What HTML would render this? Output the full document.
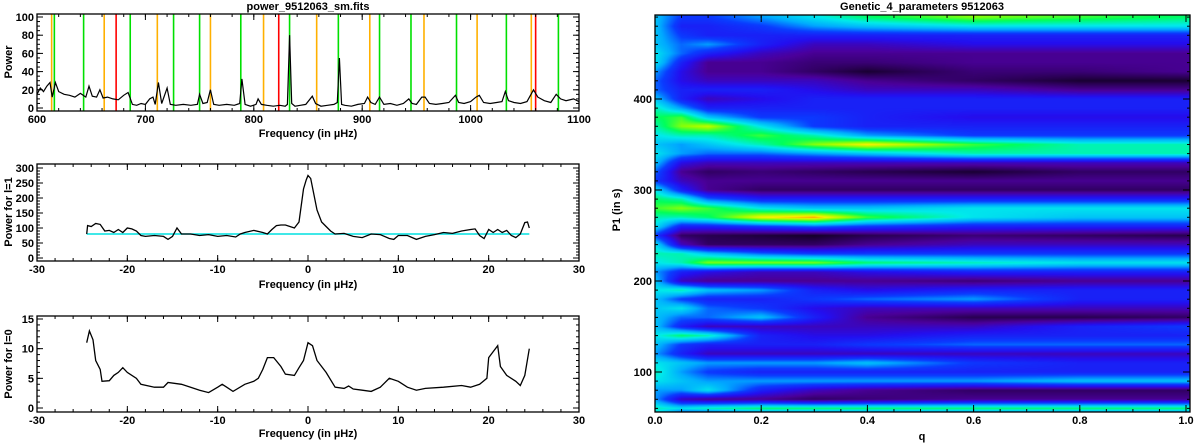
<!DOCTYPE html>
<html><head><meta charset="utf-8">
<style>
html,body{margin:0;padding:0;background:#fff;width:1200px;height:445px;overflow:hidden;}
svg text{font-family:"Liberation Sans",sans-serif;font-weight:bold;font-size:11px;fill:#000;}
#hm{position:absolute;left:655px;top:15px;}
#ov{position:absolute;left:0;top:0;}
</style></head>
<body>
<canvas id="hm" width="535" height="397"></canvas>
<svg id="ov" width="1200" height="445" xmlns="http://www.w3.org/2000/svg"></svg>
<script>
// ---- Panel 1 data ----
const p1Freq = [600,603,606,609,612,614,617,620,625,630,635,640,645,648,651,655,658,661,665,670,675,680,684,688,692,696,700,704,707,709,712,715,720,723,728,735,742,748,750,753,757,760,763,768,775,782,787,789,792,797,802,804,807,812,818,824,829,831,833,835,838,843,848,854,857,862,868,874,877,879,881,884,890,896,902,905,908,912,916,920,926,932,938,943,946,950,955,958,962,968,974,980,986,989,994,1000,1005,1008,1012,1018,1024,1029,1032,1035,1040,1046,1052,1058,1062,1068,1074,1079,1083,1088,1095,1100];
const p1Pow  = [15,22,18,24,28,12,28,18,15,14,12,16,12,24,13,12,20,11,12,10,9,14,17,4,3,5,4,10,12,4,28,5,22,4,3,4,3,4,15,5,6,20,4,3,4,3,5,32,4,2,4,10,4,3,2,3,2,4,80,5,2,3,4,13,5,2,3,4,6,55,4,3,2,4,5,12,6,4,12,4,5,3,5,10,5,4,12,12,5,4,5,6,14,6,5,7,12,14,6,5,6,7,18,8,6,5,7,20,12,8,6,15,10,8,10,7];
const p1Orange = [613.5,662,711,760,809,858,907,957,1006,1056];
const p1Green  = [616,643,686,726,750,788,833,878,916,945,987,1033,1081];
const p1Red    = [673,823,1060];
// ---- Panel 2 data (l=1) ----
const p2Freq = [-24.5,-24.4,-24,-23.5,-23,-22.5,-22,-21.5,-21,-20.5,-20,-19.5,-19,-18.5,-18,-17,-16,-15.5,-15,-14.5,-14,-13,-12,-11,-10,-9,-8,-7.5,-7,-6,-5,-4.5,-4,-3.5,-3,-2.5,-2,-1.5,-1,-0.5,-0.2,0,0.3,0.6,1,1.5,2,2.5,3,4,5,6,7,8,9,9.5,10,11,12,13,14,15,16,17,18,18.5,19,19.5,20,20.5,21,21.5,22,22.5,23,23.5,24,24.3,24.5];
const p2Pow  = [80,108,105,115,112,90,92,85,95,85,100,97,90,75,72,75,72,62,72,100,80,80,75,78,72,75,70,80,85,92,85,80,95,108,110,110,105,100,120,230,260,275,265,220,160,120,105,90,80,82,72,68,80,78,65,62,75,75,62,72,78,85,82,90,95,97,75,65,95,85,95,85,92,75,68,80,118,120,100];
const p2Level = 80;
// ---- Panel 3 data (l=0) ----
const p3Freq = [-24.5,-24.2,-23.8,-23.5,-23,-22.8,-22,-21.5,-21,-20.5,-20,-19,-18.5,-17,-16,-15.5,-14,-13,-12,-11,-10,-9.5,-9,-8.3,-7,-6,-5.5,-5,-4.5,-3.8,-3,-2.5,-1.5,-1,-0.5,0,0.5,1,2,3,4,4.5,5,6,7,8,9,10,11,12,13,15,17,18,19,19.8,20,20.5,21,21.3,22,23,23.5,24,24.5];
const p3Pow  = [11,13,11.5,8,6.5,4.5,4.6,5.5,6,6.8,6,5,4,3.5,3.5,4.3,4,3.5,3,2.6,3.5,4,3.5,2.8,4,4.5,5,6.5,8.5,8.5,7,5.7,5.5,6.8,8,11,10.5,8,6,3.5,3.3,3.7,3.2,3,2.8,3.5,5,4.5,3.5,3,3.3,3.5,3.8,3.5,4,5,8.5,9.5,10.5,7,5.5,4.5,3.8,5.5,10];
// ---- Heatmap data ----
const hmQ = [0,0.05,0.1,0.2,0.3,0.4,0.6,0.8,1.0];
const hmP = [55,60,70,80,90,100,110,120,130,140,150,160,170,180,190,200,210,220,230,240,250,260,270,280,290,300,310,320,330,340,350,360,370,380,390,400,410,420,430,440,450,460,470,480,490];
const hmV = [
[0.55,0.35,0.35,0.4,0.4,0.4,0.4,0.4,0.4],
[0.6,0.55,0.6,0.65,0.65,0.65,0.65,0.65,0.65],
[0.45,0.2,0.15,0.15,0.1,0.12,0.15,0.15,0.15],
[0.45,0.45,0.55,0.3,0.2,0.15,0.1,0.1,0.1],
[0.55,0.5,0.45,0.45,0.45,0.45,0.45,0.5,0.5],
[0.6,0.45,0.35,0.3,0.3,0.3,0.3,0.3,0.3],
[0.55,0.5,0.45,0.45,0.45,0.5,0.35,0.3,0.3],
[0.45,0.3,0.2,0.2,0.2,0.2,0.2,0.2,0.2],
[0.5,0.35,0.3,0.3,0.3,0.35,0.4,0.4,0.4],
[0.55,0.65,0.6,0.3,0.25,0.25,0.3,0.3,0.3],
[0.5,0.3,0.2,0.2,0.2,0.2,0.2,0.3,0.35],
[0.5,0.4,0.4,0.5,0.3,0.15,0.08,0.08,0.1],
[0.5,0.55,0.4,0.35,0.25,0.2,0.2,0.2,0.2],
[0.5,0.35,0.3,0.3,0.35,0.4,0.45,0.3,0.3],
[0.55,0.6,0.5,0.45,0.3,0.25,0.3,0.3,0.3],
[0.5,0.2,0.15,0.15,0.15,0.15,0.12,0.15,0.15],
[0.45,0.3,0.25,0.2,0.2,0.25,0.3,0.3,0.3],
[0.55,0.6,0.75,0.75,0.75,0.65,0.6,0.55,0.55],
[0.6,0.6,0.5,0.4,0.35,0.35,0.35,0.35,0.35],
[0.55,0.2,0.1,0.1,0.1,0.15,0.2,0.2,0.2],
[0.35,0.1,0.08,0.06,0.04,0.08,0.12,0.1,0.08],
[0.55,0.3,0.3,0.35,0.4,0.35,0.3,0.3,0.3],
[0.6,0.6,0.65,0.85,0.9,0.7,0.55,0.5,0.5],
[0.7,0.75,0.7,0.55,0.5,0.5,0.55,0.55,0.55],
[0.65,0.6,0.4,0.3,0.3,0.3,0.3,0.3,0.3],
[0.55,0.3,0.15,0.1,0.1,0.1,0.1,0.1,0.1],
[0.35,0.2,0.15,0.15,0.15,0.15,0.15,0.15,0.15],
[0.4,0.15,0.1,0.12,0.1,0.08,0.05,0.1,0.1],
[0.5,0.25,0.2,0.2,0.2,0.2,0.2,0.2,0.2],
[0.55,0.45,0.4,0.4,0.45,0.5,0.6,0.6,0.6],
[0.5,0.45,0.5,0.6,0.75,0.85,0.7,0.6,0.6],
[0.55,0.6,0.6,0.7,0.6,0.45,0.35,0.35,0.35],
[0.6,0.75,0.8,0.55,0.35,0.3,0.3,0.3,0.3],
[0.65,0.7,0.5,0.35,0.35,0.3,0.25,0.25,0.25],
[0.6,0.45,0.3,0.3,0.3,0.3,0.3,0.3,0.3],
[0.5,0.3,0.2,0.25,0.3,0.3,0.3,0.3,0.3],
[0.4,0.3,0.3,0.3,0.25,0.2,0.2,0.15,0.15],
[0.4,0.25,0.2,0.2,0.2,0.15,0.1,0.05,0.05],
[0.45,0.25,0.15,0.15,0.1,0.05,0.12,0.12,0.15],
[0.55,0.3,0.15,0.15,0.12,0.12,0.15,0.15,0.15],
[0.55,0.4,0.3,0.2,0.15,0.15,0.15,0.15,0.15],
[0.5,0.4,0.45,0.3,0.2,0.2,0.25,0.25,0.25],
[0.5,0.35,0.3,0.3,0.3,0.3,0.3,0.3,0.3],
[0.5,0.3,0.3,0.35,0.45,0.5,0.55,0.55,0.55],
[0.5,0.35,0.35,0.45,0.55,0.65,0.75,0.7,0.65]
];

const NS='http://www.w3.org/2000/svg';
const svg=document.getElementById('ov');
function mk(tag,attrs,parent){const e=document.createElementNS(NS,tag);for(const k in attrs)e.setAttribute(k,attrs[k]);(parent||svg).appendChild(e);return e;}
function txt(s,x,y,anchor,parent,rot,size){const t=mk('text',{x:x,y:y,'text-anchor':anchor||'middle'},parent);if(size)t.setAttribute('font-size',size);if(rot)t.setAttribute('transform','rotate(-90 '+x+' '+y+')');t.textContent=s;return t;}
function lin(d0,d1,r0,r1){return v=>r0+(v-d0)*(r1-r0)/(d1-d0);}

function axesBox(g,L,R,T,B,xs,ys,xt,yt,xMin,yMin,xFmt,yFmt,tickLen){
  mk('rect',{x:L,y:T,width:R-L,height:B-T,fill:'none',stroke:'#000','stroke-width':1.3},g);
  const tl=tickLen||6;
  xt.forEach(v=>{const x=xs(v);mk('line',{x1:x,y1:B,x2:x,y2:B-tl,stroke:'#000'},g);mk('line',{x1:x,y1:T,x2:x,y2:T+tl,stroke:'#000'},g);const t=txt(xFmt(v),x,B+12,'middle',g);});
  xMin.forEach(v=>{const x=xs(v);mk('line',{x1:x,y1:B,x2:x,y2:B-3,stroke:'#000'},g);mk('line',{x1:x,y1:T,x2:x,y2:T+3,stroke:'#000'},g);});
  yt.forEach(v=>{const y=ys(v);mk('line',{x1:L,y1:y,x2:L+tl,y2:y,stroke:'#000'},g);mk('line',{x1:R,y1:y,x2:R-tl,y2:y,stroke:'#000'},g);const t=txt(yFmt(v),L-3,y+4,'end',g);});
  yMin.forEach(v=>{const y=ys(v);mk('line',{x1:L,y1:y,x2:L+3,y2:y,stroke:'#000'},g);mk('line',{x1:R,y1:y,x2:R-3,y2:y,stroke:'#000'},g);});
}
function range(a,b,s){const r=[];for(let v=a;v<=b+1e-9;v+=s)r.push(Math.round(v*1000)/1000);return r;}
function pathFrom(xa,ya,xs,ys){return xa.map((v,i)=>(i?'L':'M')+xs(v).toFixed(1)+' '+ys(ya[i]).toFixed(1)).join(' ');}

// Panel 1
const g1=mk('g',{});
const x1=lin(600,1100,37,579), y1=lin(0,100,108,17);
function vline(f,col,name){const l=mk('line',{x1:x1(f),x2:x1(f),y1:14,y2:111,stroke:col,'stroke-width':1.6},g1);}
p1Orange.forEach(f=>vline(f,'#ffb000','orange-mode-line'));
p1Green.forEach(f=>vline(f,'#00e000','green-mode-line'));
p1Red.forEach(f=>vline(f,'#ff0000','red-mode-line'));
const sp1=mk('path',{d:pathFrom(p1Freq,p1Pow,x1,y1),fill:'none',stroke:'#000','stroke-width':1.2},g1);

axesBox(g1,37,579,14,111,x1,y1,range(600,1100,100),range(0,100,20),range(600,1100,20),range(0,100,5),v=>String(v),v=>String(v));
let t=txt('power_9512063_sm.fits',308,10,'middle',g1,0,12);
t=txt('Frequency (in µHz)',308,137,'middle',g1);
t=txt('Power',12,62,'middle',g1,true);

// Panel 2
const g2=mk('g',{});
const x2=lin(-30,30,37,579), y2=lin(0,300,258,168);
const cl=mk('line',{x1:x2(-24.5),x2:x2(24.5),y1:y2(p2Level),y2:y2(p2Level),stroke:'#00e0e0','stroke-width':1.6},g2);

const sp2=mk('path',{d:pathFrom(p2Freq,p2Pow,x2,y2),fill:'none',stroke:'#000','stroke-width':1.3},g2);

axesBox(g2,37,579,164,261,x2,y2,range(-30,30,10),range(0,300,50),range(-30,30,2),range(0,300,10),v=>String(v),v=>String(v));
t=txt('Frequency (in µHz)',308,288,'middle',g2);
t=txt('Power for l=1',12,212,'middle',g2,true);

// Panel 3
const g3=mk('g',{});
const x3=lin(-30,30,37,579), y3=lin(0,15,408,319);
const sp3=mk('path',{d:pathFrom(p3Freq,p3Pow,x3,y3),fill:'none',stroke:'#000','stroke-width':1.3},g3);

axesBox(g3,37,579,316,412,x3,y3,range(-30,30,10),range(0,15,5),range(-30,30,2),range(0,15,1),v=>String(v),v=>String(v));
t=txt('Frequency (in µHz)',308,437,'middle',g3);
t=txt('Power for l=0',12,364,'middle',g3,true);

// Heatmap
const HL=655,HR=1190,HT=15,HB=412;
const xq=lin(0,1,655,1186), yP=lin(400,300,99,190);
const stops=[[0,[0,0,0]],[0.08,[40,0,80]],[0.16,[75,0,155]],[0.26,[35,15,240]],[0.36,[10,60,255]],[0.46,[0,170,255]],[0.56,[0,235,235]],[0.66,[0,255,90]],[0.76,[150,255,0]],[0.85,[255,240,0]],[0.92,[255,100,0]],[0.97,[255,0,0]],[1,[255,255,255]]];
function cmap(v){v=Math.max(0,Math.min(1,v));for(let i=1;i<stops.length;i++){if(v<=stops[i][0]){const a=stops[i-1],b=stops[i],f=(v-a[0])/(b[0]-a[0]);return a[1].map((c,k)=>c+(b[1][k]-c)*f);}}return [255,255,255];}
function interp(arr,v){if(v<=arr[0])return [0,0];if(v>=arr[arr.length-1])return [arr.length-2,1];for(let i=1;i<arr.length;i++)if(v<=arr[i])return [i-1,(v-arr[i-1])/(arr[i]-arr[i-1])];}
(function(){const cv=document.getElementById('hm');const W=cv.width,H=cv.height;const ctx=cv.getContext('2d');const img=ctx.createImageData(W,H);
const qInv=x=>(x-655)/(1186-655), pInv=y=>400-(y-99)*100/91;
for(let py=0;py<H;py++){const P=pInv(HT+py+0.5);const [ri,rf]=interp(hmP,P);
 for(let px=0;px<W;px++){const q=qInv(HL+px+0.5);const [ci,cf]=interp(hmQ,q);
  const a=hmV[ri][ci]*(1-cf)+hmV[ri][ci+1]*cf, b=hmV[ri+1][ci]*(1-cf)+hmV[ri+1][ci+1]*cf;
  const c=cmap(a*(1-rf)+b*rf);const o=(py*W+px)*4;img.data[o]=c[0];img.data[o+1]=c[1];img.data[o+2]=c[2];img.data[o+3]=255;}}
ctx.putImageData(img,0,0);})();
const g4=mk('g',{});
axesBox(g4,HL,HR,HT,HB,xq,yP,range(0,1,0.2),range(100,400,100),range(0,1,0.05),range(60,490,10),v=>v.toFixed(1),v=>String(v),7);
t=txt('Genetic_4_parameters 9512063',922,10,'middle',g4,0,12);
t=txt('q',922,440,'middle',g4);
t=txt('P1 (in s)',620,210,'middle',g4,true);
</script>
</body></html>
